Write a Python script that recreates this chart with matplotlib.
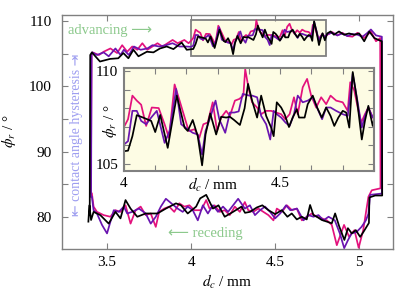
import matplotlib
matplotlib.use("Agg")
import matplotlib.pyplot as plt
from matplotlib.patches import Rectangle
from matplotlib.ticker import MultipleLocator

plt.rcParams['font.family'] = ['Liberation Serif', 'DejaVu Sans']
plt.rcParams['mathtext.fontset'] = 'stix'

# ---------------- data (d_c in mm, phi_r in degrees) ----------------
black_top_x = [3.397, 3.400, 3.410, 3.458, 3.518, 3.567, 3.597, 3.627, 3.657, 3.687, 3.737, 3.776,
               3.815, 3.855, 3.895, 3.944, 3.974,
               4.000, 4.013, 4.027, 4.041, 4.061, 4.087, 4.100, 4.116, 4.140, 4.169, 4.194, 4.204,
               4.220, 4.236, 4.250, 4.261, 4.276, 4.295, 4.311, 4.327, 4.339, 4.353, 4.371, 4.386,
               4.397, 4.410, 4.426, 4.439, 4.455, 4.471, 4.479, 4.489, 4.503, 4.514, 4.528, 4.540,
               4.553, 4.560, 4.578, 4.588, 4.604, 4.618, 4.633, 4.647, 4.661, 4.673, 4.686, 4.700,
               4.711, 4.721, 4.732, 4.746, 4.761, 4.771, 4.782, 4.796, 4.810,
               4.830, 4.850, 4.880, 4.910, 4.940, 4.970, 5.000, 5.030, 5.060, 5.090, 5.115, 5.135]
black_top_y = [80.3, 104.8, 105.2, 103.8, 104.2, 104.3, 105.1, 104.3, 105.6, 104.6, 105.3, 105.2,
               105.8, 106.1, 105.7, 106.7, 105.6,
               105.69, 105.72, 106.50, 107.63, 107.50, 107.32, 106.72, 107.64, 105.87, 108.68, 106.96, 106.78,
               107.37, 106.50, 104.93, 106.59, 107.72, 106.59, 107.54, 107.50, 107.54, 107.36, 107.10, 108.00,
               109.31, 108.41, 107.50, 108.68, 107.59, 106.96, 106.50, 108.32, 108.04, 107.68, 106.99, 107.50,
               107.95, 107.50, 107.50, 108.22, 108.68, 108.04, 107.50, 108.04, 107.59, 107.05, 107.50, 107.86,
               107.77, 106.96, 109.95, 108.41, 106.32, 107.32, 108.13, 107.05, 108.10,
               108.4, 107.9, 108.4, 107.9, 108.1, 107.9, 108.1, 106.9, 108.4, 107.4, 107.1, 106.9]
black_bot_x = [5.137, 5.095, 5.061, 5.058, 5.026, 5.006, 4.980, 4.956, 4.933, 4.912, 4.881, 4.857,
               4.837, 4.808, 4.778, 4.748, 4.728, 4.708, 4.688, 4.659, 4.629, 4.599, 4.573, 4.540,
               4.500, 4.460, 4.424, 4.391, 4.351, 4.321, 4.300, 4.250, 4.200, 4.163, 4.130, 4.090,
               4.054, 4.030, 3.980, 3.940, 3.910, 3.850, 3.800, 3.730, 3.680, 3.640, 3.610, 3.580,
               3.550, 3.510, 3.460, 3.420, 3.405, 3.395, 3.389]
black_bot_y = [83.3, 83.3, 83.0, 79.1, 77.75, 76.97, 78.0, 77.5, 78.3, 76.5, 78.6, 80.56,
               79.04, 79.3, 79.55, 80.05, 80.3, 81.85, 79.64, 80.05, 79.64, 80.55, 80.05, 81.06,
               80.45, 81.06, 81.8, 81.47, 80.8, 80.65, 81.6, 80.8, 80.05, 81.8, 81.3, 83.4,
               82.86, 81.6, 80.55, 81.8, 82.1, 81.3, 80.55, 80.55, 80.05, 81.3, 82.6, 79.8,
               80.8, 79.0, 80.3, 80.8, 79.55, 81.8, 79.3]

magenta_top_x = [3.404, 3.408, 3.413, 3.452, 3.480, 3.520, 3.560, 3.590, 3.620, 3.650, 3.680, 3.710,
                 3.740, 3.770, 3.800, 3.830, 3.860, 3.890, 3.920, 3.960, 3.985,
                 4.000, 4.013, 4.027, 4.041, 4.055, 4.071, 4.089, 4.111, 4.130, 4.144, 4.162, 4.178,
                 4.194, 4.207, 4.226, 4.241, 4.254, 4.268, 4.284, 4.298, 4.311, 4.327, 4.339, 4.355,
                 4.369, 4.382, 4.388, 4.399, 4.410, 4.426, 4.439, 4.455, 4.471, 4.487, 4.503, 4.516,
                 4.530, 4.544, 4.556, 4.572, 4.586, 4.599, 4.615, 4.631, 4.647, 4.661, 4.679, 4.700,
                 4.716, 4.724, 4.737, 4.748, 4.759, 4.771, 4.782, 4.796,
                 4.810, 4.840, 4.870, 4.900, 4.930, 4.960, 4.990, 5.030, 5.070, 5.100, 5.125]
magenta_top_y = [83.6, 104.8, 105.2, 104.8, 105.3, 105.8, 105.1, 106.3, 105.3, 106.1, 105.6, 106.6,
                 105.6, 106.1, 106.6, 106.1, 106.6, 107.1, 106.6, 107.1, 106.6,
                 106.99, 107.41, 108.68, 108.41, 108.19, 107.05, 108.04, 108.01, 107.14, 106.41, 109.28, 108.41,
                 107.50, 106.78, 106.87, 106.41, 107.14, 107.23, 108.32, 106.78, 107.50, 107.86, 107.59, 108.41,
                 108.50, 108.68, 110.10, 109.04, 108.32, 108.04, 107.68, 107.86, 107.86, 107.77, 107.68, 107.41,
                 107.68, 108.59, 107.68, 109.13, 109.58, 108.68, 108.04, 108.59, 108.22, 108.68, 108.41, 108.32,
                 107.86, 109.40, 108.95, 108.04, 107.23, 107.68, 108.04, 107.50,
                 107.9, 108.3, 107.8, 108.2, 107.7, 107.6, 108.2, 107.4, 108.4, 106.9, 107.4]
magenta_bot_x = [5.127, 5.075, 5.055, 5.024, 4.997, 4.972, 4.940, 4.910, 4.867, 4.837, 4.808, 4.778,
                 4.748, 4.718, 4.689, 4.659, 4.629, 4.600, 4.570, 4.540, 4.510, 4.490, 4.460, 4.430,
                 4.400, 4.370, 4.340, 4.320, 4.290, 4.260, 4.230, 4.200, 4.170, 4.140, 4.110, 4.090,
                 4.060, 4.020, 3.990, 3.960, 3.930, 3.900, 3.870, 3.840, 3.810, 3.790, 3.760, 3.730,
                 3.700, 3.670, 3.640, 3.610, 3.580, 3.550, 3.520, 3.480, 3.440, 3.420, 3.410]
magenta_bot_y = [84.4, 84.1, 83.1, 78.0, 75.3, 78.0, 77.0, 78.8, 75.7, 78.8, 79.5, 79.8,
                 80.05, 80.55, 80.05, 79.5, 81.3, 81.05, 81.8, 80.8, 81.3, 79.5, 80.3, 80.8,
                 81.3, 80.8, 81.05, 82.3, 80.8, 81.6, 80.3, 81.05, 80.8, 81.8, 81.3, 82.6,
                 81.05, 81.05, 81.8, 81.6, 82.1, 80.8, 81.6, 81.3, 80.8, 78.5, 80.55, 80.3,
                 81.6, 81.05, 79.0, 81.8, 80.8, 81.05, 80.05, 80.3, 80.8, 81.6, 83.6]

purple_top_x = [3.405, 3.408, 3.413, 3.440, 3.480, 3.510, 3.550, 3.580, 3.600, 3.630, 3.660, 3.700,
                3.740, 3.770, 3.810, 3.850, 3.890, 3.930, 3.970,
                4.000, 4.013, 4.027, 4.041, 4.055, 4.071, 4.089, 4.105, 4.130, 4.146, 4.167, 4.183,
                4.204, 4.220, 4.236, 4.250, 4.261, 4.276, 4.293, 4.305, 4.324, 4.339, 4.353, 4.367,
                4.380, 4.401, 4.410, 4.426, 4.439, 4.455, 4.468, 4.479, 4.489, 4.503, 4.517, 4.530,
                4.544, 4.556, 4.572, 4.588, 4.604, 4.620, 4.634, 4.647, 4.661, 4.679, 4.700, 4.716,
                4.732, 4.746, 4.761, 4.771, 4.782, 4.796,
                4.810, 4.840, 4.870, 4.900, 4.930, 4.960, 4.990, 5.020, 5.045, 5.070, 5.100, 5.135]
purple_top_y = [83.1, 104.8, 105.2, 104.8, 105.2, 104.6, 105.8, 104.8, 105.6, 104.8, 106.1, 105.6,
                105.8, 106.3, 106.1, 106.3, 106.6, 106.1, 106.1,
                106.05, 106.23, 107.86, 107.86, 107.32, 107.14, 107.54, 107.86, 106.14, 106.78, 109.04, 107.14,
                106.87, 106.68, 106.59, 105.51, 106.78, 107.50, 108.41, 107.41, 106.68, 107.77, 107.77, 107.83,
                108.77, 108.68, 108.68, 108.59, 107.59, 107.14, 106.32, 107.86, 107.68, 107.50, 107.23, 107.05,
                107.68, 108.68, 108.32, 108.41, 108.59, 107.95, 107.41, 108.04, 108.04, 107.86, 107.68, 107.59,
                109.86, 108.50, 106.96, 107.59, 108.04, 107.50,
                108.0, 108.2, 107.8, 108.1, 107.7, 108.0, 107.9, 107.6, 108.1, 108.7, 107.8, 107.6]
purple_bot_x = [5.135, 5.065, 5.055, 5.040, 5.014, 4.984, 4.955, 4.934, 4.911, 4.885, 4.855, 4.818,
                4.788, 4.758, 4.728, 4.698, 4.669, 4.630, 4.590, 4.565, 4.530, 4.500, 4.470, 4.440,
                4.410, 4.380, 4.350, 4.320, 4.280, 4.250, 4.220, 4.190, 4.160, 4.130, 4.100, 4.070,
                4.040, 4.010, 3.980, 3.950, 3.920, 3.850, 3.820, 3.790, 3.760, 3.730, 3.690, 3.650,
                3.620, 3.600, 3.570, 3.540, 3.500, 3.470, 3.440, 3.420, 3.410]
purple_bot_y = [83.6, 83.4, 80.5, 79.5, 78.5, 77.7, 77.5, 76.5, 75.25, 77.5, 79.5, 80.05,
                79.5, 80.3, 80.05, 80.3, 79.5, 81.3, 81.05, 81.8, 80.55, 79.8, 80.8, 81.6,
                81.05, 80.3, 81.8, 81.3, 82.8, 81.8, 80.8, 81.6, 80.8, 81.8, 80.55, 81.8,
                79.5, 81.05, 81.6, 80.8, 81.3, 82.8, 81.6, 80.05, 79.0, 80.55, 81.3, 80.8,
                80.55, 81.6, 80.8, 81.05, 77.5, 78.8, 80.55, 81.05, 83.1]

series = [
    (magenta_top_x + magenta_bot_x, magenta_top_y + magenta_bot_y, '#e3127d'),
    (purple_top_x + purple_bot_x, purple_top_y + purple_bot_y, '#6a14b0'),
    (black_top_x + black_bot_x, black_top_y + black_bot_y, '#000000'),
]

main_xticks = [3.5, 4.0, 4.5, 5.0]
main_xticklabels = ['3.5', '4', '4.5', '5']
main_yticks = [80, 90, 100, 110]
inset_xticks = [4.0, 4.5]
inset_xticklabels = ['4', '4.5']
inset_yticks = [105, 110]

# ---------------- figure ----------------
fig = plt.figure(figsize=(4.16, 2.91), dpi=100)
ax = fig.add_axes([0.149, 0.144, 0.796, 0.804])
spine_col = '#808080'
yellow = '#fdfce4'
fs = 11

ax.set_xlim(3.232, 5.202)
ax.set_ylim(75.1, 110.9)
for s in ax.spines.values():
    s.set_color(spine_col)
    s.set_linewidth(1.0)

ax.add_patch(Rectangle((4.0, 104.62), 0.8, 5.53, facecolor=yellow, edgecolor=spine_col,
                       linewidth=1.3, zorder=1))
for xs, ys, c in series:
    ax.plot(xs, ys, color=c, lw=1.25, zorder=3)

ax.set_xticks(main_xticks)
ax.set_xticklabels(main_xticklabels)
ax.set_yticks(main_yticks)
ax.yaxis.set_minor_locator(MultipleLocator(5))
ax.tick_params(which='both', direction='in', top=True, right=True, color=spine_col,
               labelsize=fs, width=0.8, length=4)
ax.tick_params(axis='y', pad=7.5)
ax.tick_params(axis='x', pad=5)

ax.text(-0.16, 0.505, r'$\phi_r$ / °', rotation=90, ha='center', va='center',
        transform=ax.transAxes, fontsize=fs)
ax.text(0.5, -0.141, r'$d_c$ / mm', ha='center', va='center', transform=ax.transAxes, fontsize=fs)

green = '#8cc98c'
ax.text(3.268, 108.5, 'advancing ⟶', color=green, fontsize=10.5, ha='left', va='center')
ax.text(3.863, 77.55, '⟵ receding', color=green, fontsize=10.5, ha='left', va='center')
ax.text(3.321, 92.6, '⇤ contact angle hysteresis ⇥', color='#9d9df0', fontsize=10,
        rotation=90, ha='center', va='center')

# ---------------- inset ----------------
axi = fig.add_axes([0.298, 0.412, 0.601, 0.354])
axi.set_facecolor(yellow)
for s in axi.spines.values():
    s.set_color(spine_col)
    s.set_linewidth(1.5)
for xs, ys, c in series:
    axi.plot(xs, ys, color=c, lw=1.25)
axi.set_xlim(4.0, 4.8)
axi.set_ylim(104.62, 110.16)
axi.set_xticks(inset_xticks)
axi.set_xticklabels(inset_xticklabels)
axi.xaxis.set_minor_locator(MultipleLocator(0.1))
axi.set_yticks(inset_yticks)
axi.yaxis.set_minor_locator(MultipleLocator(1))
axi.tick_params(which='both', direction='in', top=True, right=True, color=spine_col,
                labelsize=fs, length=4, width=0.8)
axi.tick_params(axis='y', pad=4)
axi.tick_params(axis='x', pad=4.5)
axi.text(-0.056, 0.48, r'$\phi_r$ / °', rotation=90, ha='center', va='center',
         transform=axi.transAxes, fontsize=fs)
axi.text(0.356, -0.135, r'$d_c$ / mm', ha='center', va='center', transform=axi.transAxes, fontsize=fs)

fig.savefig('out.png', dpi=100)
